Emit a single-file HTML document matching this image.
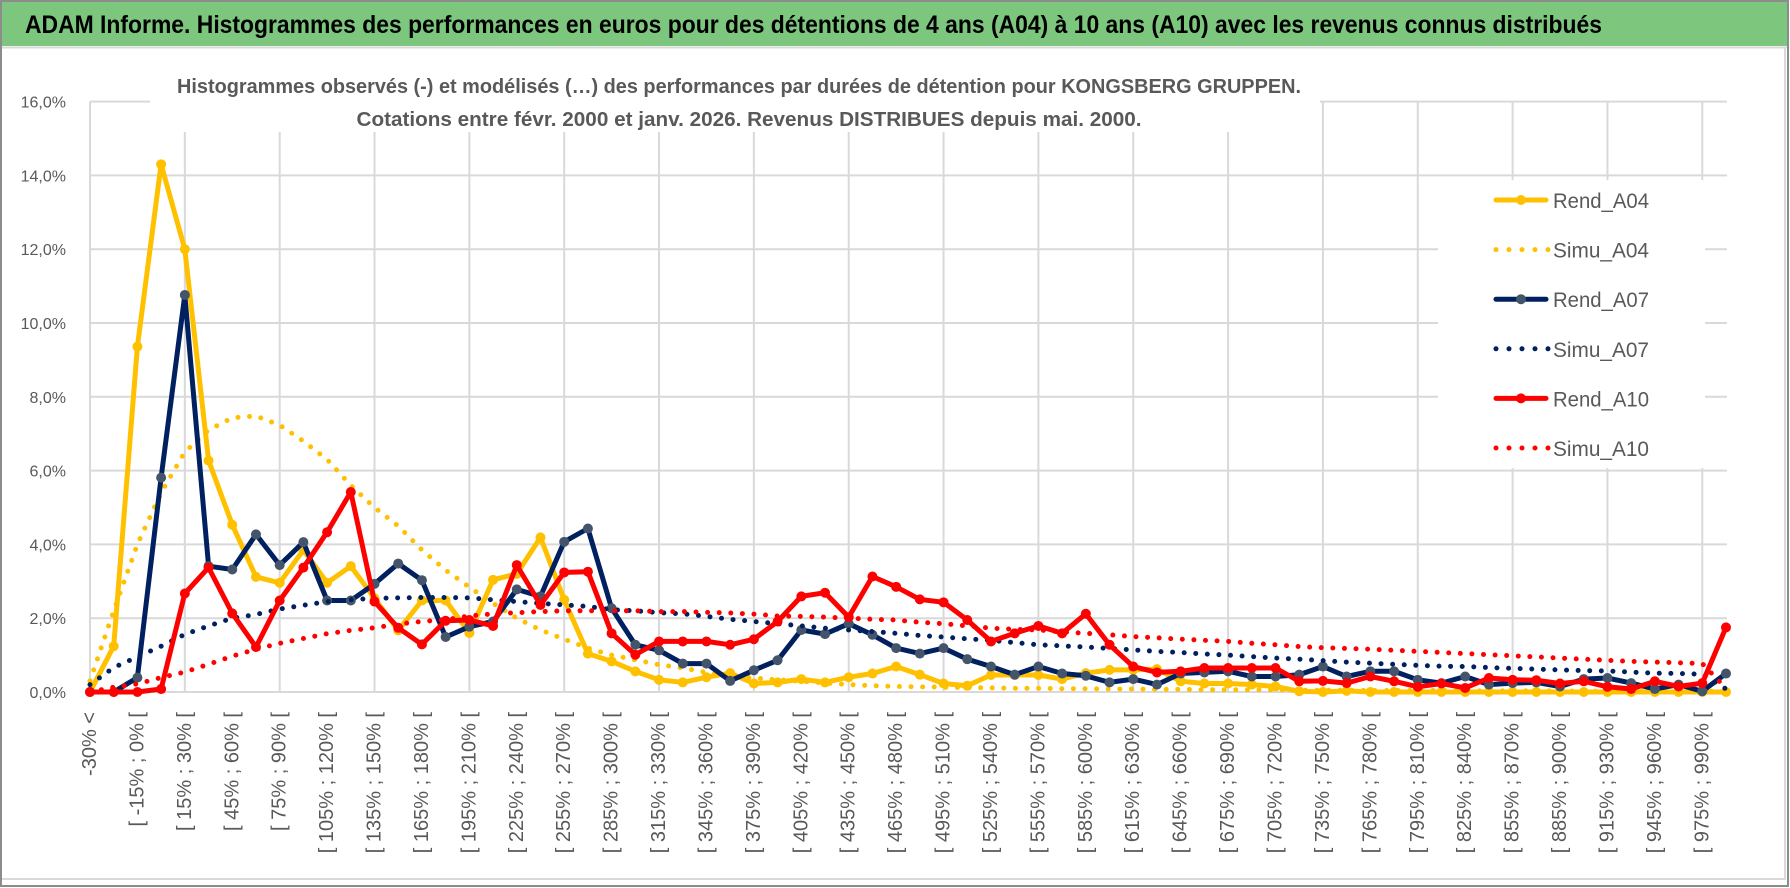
<!DOCTYPE html>
<html><head><meta charset="utf-8">
<style>
html,body{margin:0;padding:0;background:#fff;}
svg{display:block;font-family:"Liberation Sans",sans-serif;}
</style></head>
<body>
<svg id="chart" width="1790" height="888" viewBox="0 0 1790 888" xmlns="http://www.w3.org/2000/svg">
  <rect x="0" y="0" width="1790" height="888" fill="#fff"/>
  <rect x="1" y="1" width="1787" height="45" fill="#7DC67E"/>
  <line x1="1" y1="47.5" x2="1788" y2="47.5" stroke="#d9d9d9" stroke-width="2"/>
  <text x="25" y="33" font-size="25" font-weight="bold" fill="#000" textLength="1577" lengthAdjust="spacingAndGlyphs">ADAM Informe. Histogrammes des performances en euros pour des détentions de 4 ans (A04) à 10 ans (A10) avec les revenus connus distribués</text>
  <rect x="1" y="1" width="1787" height="885" fill="none" stroke="#8c8c8c" stroke-width="2"/>
  <line x1="2" y1="879" x2="1786" y2="879" stroke="#d9d9d9" stroke-width="2"/>
  <line x1="1785" y1="48" x2="1785" y2="879" stroke="#d9d9d9" stroke-width="2"/>
  <g id="grid"></g>
  <g id="ylabels"></g>
  <g id="xlabels"></g>
  <rect x="150" y="68" width="1170" height="64" fill="#fff"/>
  <text x="739" y="93" text-anchor="middle" font-size="20" font-weight="bold" fill="#595959" textLength="1124" lengthAdjust="spacingAndGlyphs">Histogrammes observés (-) et modélisés (…) des performances par durées de détention pour KONGSBERG GRUPPEN.</text>
  <text x="749" y="126" text-anchor="middle" font-size="20" font-weight="bold" fill="#595959" textLength="785" lengthAdjust="spacingAndGlyphs">Cotations entre févr. 2000 et janv. 2026. Revenus DISTRIBUES depuis mai. 2000.</text>
  <g id="series"></g>
  <g id="legend"></g>
</svg>
<script>
const categoriesCount = 70;
const yTicks = [0,2,4,6,8,10,12,14,16];
const rendA04 = [0,1.24,9.36,14.3,12.0,6.27,4.53,3.12,2.96,3.85, 2.96,3.41,2.54,1.67,2.48,2.48,1.6,3.04,3.2,4.19, 2.5,1.04,0.83,0.56,0.33,0.26,0.4,0.51,0.23,0.26, 0.35,0.26,0.4,0.5,0.69,0.47,0.23,0.17,0.46,0.46, 0.46,0.35,0.51,0.6,0.6,0.62,0.29,0.23,0.23,0.2, 0.15,0.02,0,0.03,0,0,0,0,0,0, 0,0,0,0,0,0,0,0,0,0];
const simuA04 = [0.3,2.2,4.0,5.4,6.5,7.1,7.43,7.48,7.23,6.8, 6.3,5.6,5.0,4.5,3.85,3.3,2.84,2.4,2.0,1.68, 1.43,1.19,1.0,0.87,0.74,0.65,0.53,0.42,0.38,0.33, 0.29,0.24,0.2,0.17,0.15,0.14,0.13,0.12,0.11,0.1, 0.1,0.09,0.09,0.08,0.08,0.07,0.07,0.06,0.06,0.06, 0.06,0.05,0.05,0.05,0.04,0.04,0.04,0.04,0.03,0.03, 0.03,0.03,0.03,0.02,0.02,0.02,0.02,0.02,0.02,0.02];
const rendA07 = [0,0,0.39,5.81,10.76,3.41,3.32,4.27,3.44,4.06, 2.48,2.48,2.93,3.48,3.03,1.49,1.77,1.91,2.78,2.59, 4.07,4.43,2.27,1.28,1.13,0.77,0.77,0.3,0.59,0.86, 1.68,1.57,1.85,1.55,1.19,1.04,1.19,0.89,0.69,0.47, 0.69,0.5,0.44,0.26,0.35,0.2,0.5,0.53,0.56,0.42, 0.42,0.47,0.69,0.42,0.56,0.56,0.33,0.24,0.42,0.2, 0.24,0.26,0.15,0.35,0.38,0.24,0.08,0.2,0.02,0.5];
const simuA07 = [0.2,0.66,0.95,1.24,1.56,1.79,2.0,2.1,2.25,2.35, 2.45,2.5,2.54,2.55,2.56,2.56,2.55,2.5,2.45,2.4, 2.36,2.32,2.23,2.2,2.15,2.12,2.05,1.97,1.91,1.85, 1.79,1.73,1.68,1.64,1.59,1.53,1.49,1.44,1.4,1.34, 1.28,1.25,1.22,1.18,1.14,1.1,1.07,1.03,1.0,0.96, 0.92,0.89,0.85,0.81,0.78,0.75,0.72,0.7,0.69,0.66, 0.64,0.62,0.6,0.58,0.57,0.54,0.51,0.5,0.48,0.08];
const rendA10 = [0,0,0,0.08,2.67,3.37,2.13,1.22,2.48,3.37, 4.33,5.42,2.45,1.74,1.29,1.93,1.95,1.79,3.44,2.36, 3.24,3.26,1.59,1.01,1.37,1.37,1.37,1.28,1.43,1.91, 2.59,2.69,2.03,3.13,2.85,2.51,2.43,1.95,1.37,1.59, 1.79,1.59,2.12,1.28,0.69,0.53,0.56,0.65,0.65,0.65, 0.65,0.29,0.3,0.24,0.42,0.29,0.14,0.23,0.11,0.38, 0.33,0.32,0.23,0.29,0.14,0.08,0.29,0.15,0.24,1.75];
const simuA10 = [0,0.13,0.22,0.39,0.54,0.75,0.97,1.16,1.32,1.45, 1.58,1.67,1.74,1.84,1.91,1.96,2.06,2.12,2.15,2.18, 2.2,2.2,2.2,2.2,2.18,2.18,2.16,2.14,2.11,2.06, 2.05,2.03,2.0,1.97,1.95,1.89,1.85,1.79,1.73,1.7, 1.68,1.63,1.59,1.55,1.5,1.47,1.43,1.4,1.37,1.32, 1.28,1.23,1.2,1.18,1.16,1.13,1.1,1.07,1.04,1.01, 0.98,0.95,0.92,0.89,0.86,0.83,0.81,0.79,0.77,0.1];
const seriesNames = ["Rend_A04","Simu_A04","Rend_A07","Simu_A07","Rend_A10","Simu_A10"];

const NS = "http://www.w3.org/2000/svg";
const X0 = 90, X1 = 1726, Y0 = 692, YTOP = 101.6, YMAX = 16;
function xPos(i){ return X0 + (X1 - X0) * i / (categoriesCount - 1); }
function yPos(v){ return Y0 - (Y0 - YTOP) * v / YMAX; }
function catLabel(i){
  if (i === 0) return "-30% <";
  if (i === categoriesCount - 1) return "990% <";
  const a = -30 + 15 * (i - 1);
  return "[ " + a + "% ; " + (a + 15) + "% [";
}
function mk(tag, attrs, parent){
  const e = document.createElementNS(NS, tag);
  for (const k in attrs) e.setAttribute(k, attrs[k]);
  parent.appendChild(e);
  return e;
}
const grid = document.getElementById("grid");
yTicks.forEach(t => {
  const l = mk("line", {x1: X0, x2: 1727, y1: yPos(t), y2: yPos(t), stroke: "#d9d9d9", "stroke-width": 2}, grid);
  
  
});
for (let i = 0; i < categoriesCount; i += 4) {
  const l = mk("line", {x1: xPos(i), x2: xPos(i), y1: yPos(YMAX), y2: Y0, stroke: "#d9d9d9", "stroke-width": 2}, grid);
  
  
}
const yl = document.getElementById("ylabels");
yTicks.forEach(t => {
  const tx = mk("text", {x: 66, y: yPos(t) + 6, "text-anchor": "end", "font-size": 16, fill: "#595959"}, yl);
  tx.textContent = t.toFixed(1).replace(".", ",") + "%";
  
  
});
const xl = document.getElementById("xlabels");
for (let i = 0; i < categoriesCount; i += 2) {
  const x = xPos(i), y = 712;
  const tx = mk("text", {x: x, y: y, "text-anchor": "end", "dominant-baseline": "central", "font-size": 20, fill: "#595959", transform: "rotate(-90 " + x + " " + y + ")"}, xl);
  tx.textContent = catLabel(i);
  
  
}
const lg = document.getElementById("legend");
const lbg = mk("rect", {x: 1438, y: 180, width: 267, height: 288, fill: "#fff"}, lg);



const seriesDefs = [
  {data: rendA04, color: "#FFC000", marker: "#FFC000", dotted: false},
  {data: simuA04, color: "#FFC000", dotted: true},
  {data: rendA07, color: "#002060", marker: "#44546A", dotted: false},
  {data: simuA07, color: "#002060", dotted: true},
  {data: rendA10, color: "#FF0000", marker: "#FF0000", dotted: false},
  {data: simuA10, color: "#FF0000", dotted: true}
];
const sl = document.getElementById("series");
seriesDefs.forEach((s, si) => {
  const g = mk("g", {}, sl);
  
  
  const pts = s.data.map((v, i) => xPos(i).toFixed(1) + "," + yPos(v).toFixed(1)).join(" ");
  const attrs = {points: pts, fill: "none", stroke: s.color, "stroke-linejoin": "round", "stroke-width": 5};
  if (s.dotted) { attrs["stroke-dasharray"] = "0 11.6"; attrs["stroke-linecap"] = "round"; }
  else { attrs["stroke-linecap"] = "round"; }
  const pl = mk("polyline", attrs, g);
  
  
  if (!s.dotted) {
    s.data.forEach((v, i) => {
      const c = mk("circle", {cx: xPos(i), cy: yPos(v), r: 5, fill: s.marker}, g);
      
      
    });
  }
  const ly = 200 + si * 49.6;
  const le = mk("g", {}, lg);
  
  
  const la = {x1: 1496, x2: 1546, y1: ly, y2: ly, stroke: s.color, "stroke-width": 5, "stroke-linecap": "round"};
  if (s.dotted) { la["stroke-dasharray"] = "0 13"; la.x2 = 1550; }
  const ll = mk("line", la, le);
  
  
  if (!s.dotted) {
    const mc = mk("circle", {cx: 1521, cy: ly, r: 5, fill: s.marker}, le);
    
    
  }
  const lt = mk("text", {x: 1553, y: ly + 8, "font-size": 21, fill: "#595959", textLength: 96, lengthAdjust: "spacingAndGlyphs"}, le);
  lt.textContent = seriesNames[si];
  
  
});
</script>
</body></html>
